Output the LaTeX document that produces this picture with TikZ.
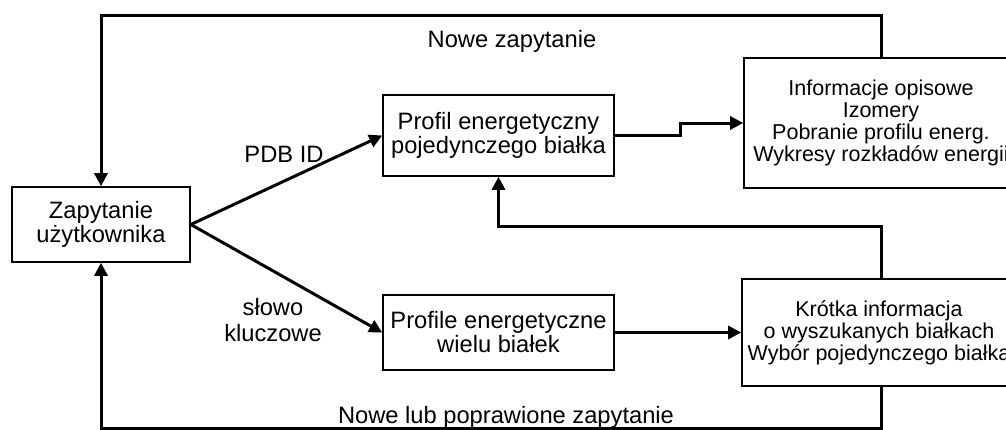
\documentclass[tikz,border=0pt]{standalone}
\usepackage{fontspec}
\setmainfont{Liberation Sans}
\usetikzlibrary{arrows.meta}
\tikzset{
  box/.style={draw,line width=0.8pt,align=center,inner sep=1pt,
    font=\fontsize{11.85}{12}\selectfont},
  infobox/.style={box,font=\fontsize{10.75}{11}\selectfont},
  flow/.style={line width=1.5pt,-{Triangle[length=6.5pt,width=6.5pt]}},
  link/.style={line width=1.5pt},
  lbl/.style={align=center,inner sep=0pt,font=\fontsize{11.85}{13}\selectfont}
}
\begin{document}
\begin{tikzpicture}[x=0.5pt,y=-0.5pt]
  \useasboundingbox (0,0) rectangle (1006,429);
  \clip (0,0) rectangle (1006,429);
  % boxes
  \node [box,minimum width=89pt,minimum height=37.5pt] (query) at (101,224.5)
    {Zapytanie\\użytkownika};
  \node [box,minimum width=115.5pt,minimum height=40.5pt] (single) at (498.5,135.5)
    {Profil energetyczny\\pojedynczego białka};
  \node [box,minimum width=115.5pt,minimum height=37.5pt] (multi) at (498.5,332.5)
    {Profile energetyczne\\wielu białek};
  \node [infobox,minimum width=137pt,minimum height=65pt] (details) at (881,123)
    {Informacje opisowe\\Izomery\\Pobranie profilu energ.\\Wykresy rozkładów energii};
  \node [infobox,minimum width=137pt,minimum height=53.5pt] (brief) at (879,332.5)
    {Krótka informacja\\o wyszukanych białkach\\Wybór pojedynczego białka};
  % labels
  \node [lbl] (pdb) at (284,154) {PDB ID};
  \node [lbl] (keyword) at (273,320) {słowo\\kluczowe};
  \node [lbl] (newq) at (512,41) {Nowe zapytanie};
  \node [lbl] (fixq) at (506,417) {Nowe lub poprawione zapytanie};
  % forward arrows
  \draw [flow] (query.east) -- (single.west);
  \draw [flow] (query.east) -- (multi.west);
  \draw [flow] (single.east) -- ++(66,0) |- (details.west);
  \draw [flow] (multi.east) -- (brief.west);
  % feedback loops
  \draw [flow] (details.north -| 881,0) -- ++(0,-42) -| (query.north);
  \draw [flow] (brief.north -| 881,0) -- ++(0,-52) -| (single.south);
  \draw [flow] (brief.south -| 881,0) -- ++(0,42) -| (query.south);
\end{tikzpicture}
\end{document}
